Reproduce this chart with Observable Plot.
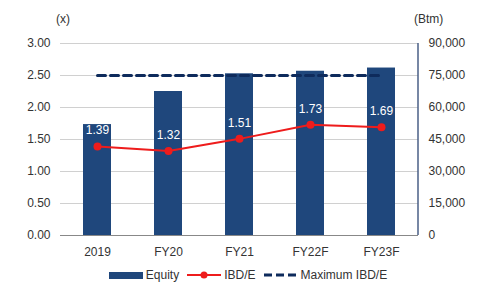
<!DOCTYPE html>
<html><head><meta charset="utf-8">
<script src="https://cdn.jsdelivr.net/npm/d3@7"></script>
<script src="https://cdn.jsdelivr.net/npm/@observablehq/plot@0.6"></script>
<style>
body{margin:0;background:#fff;font-family:"Liberation Sans",Arial,sans-serif;}
#wrap{width:484px;position:relative;}
.unit{position:absolute;top:12px;font-size:12px;color:#333;}
#legend{display:flex;justify-content:center;gap:8px;font-size:12px;color:#333;margin-top:6px;margin-left:12px;}
#legend span{display:inline-flex;align-items:center;gap:3px;}
</style></head>
<body><div id="wrap"><div class="unit" style="left:56px">(x)</div><div class="unit" style="left:414px">(Btm)</div><div id="chart"></div><div id="legend"></div></div>
<script>
const categories = ["2019","FY20","FY21","FY22F","FY23F"];
const equity = [52000, 67500, 75800, 77000, 78500];
const ibde = [1.39, 1.32, 1.51, 1.73, 1.69];
const maxIbde = 2.50;
const leftTicks = [0,0.5,1,1.5,2,2.5,3];
const rightTicks = [0,15000,30000,45000,60000,75000,90000];

const ratio = 90000/3;
const rows = categories.map((c,i)=>({cat:c, eq:equity[i]/ratio, ib:ibde[i], mx:maxIbde}));
const navy = "#1f477c";
const plot = Plot.plot({
  width:484, height:262,
  marginLeft:60, marginRight:66, marginTop:43, marginBottom:27,
  style:{fontFamily:"Liberation Sans, Arial, sans-serif", fontSize:"12px", color:"#333"},
  x:{domain:categories, paddingInner:0.6, paddingOuter:0.3, label:null},
  y:{domain:[0,3], label:null},
  marks:[
    Plot.gridY(leftTicks,{stroke:"#d0d0d0", strokeOpacity:1}),
    Plot.barY(rows,{x:"cat", y:"eq", fill:navy}),
    Plot.ruleX([0],{stroke:"#999"}),
    Plot.ruleY([0],{stroke:"#888"}),
    Plot.axisY({anchor:"left", ticks:leftTicks, tickFormat:d=>d.toFixed(2), tickSize:0, tickPadding:10, label:null}),
    Plot.axisY({anchor:"right", ticks:leftTicks, tickFormat:d=>d===0?"0":d3.format(",")(Math.round(d*ratio)), tickSize:0, tickPadding:10, label:null}),
    Plot.axisX({tickSize:0, tickPadding:12, label:null}),
    Plot.lineY(rows,{x:"cat", y:"mx", stroke:"#0e2b5c", strokeWidth:3, strokeDasharray:"8,5"}),
    Plot.lineY(rows,{x:"cat", y:"ib", stroke:"#ee1c1c", strokeWidth:2}),
    Plot.dot(rows,{x:"cat", y:"ib", fill:"#ee1c1c", r:4}),
    Plot.text(rows,{x:"cat", y:"ib", text:d=>d.ib.toFixed(2), dy:-16, fill:"white", fontSize:12})
  ]
});
// right axis line
d3.select(plot).append("line").attr("x1",418).attr("x2",418).attr("y1",43).attr("y2",235).attr("stroke","#4a5f86").attr("stroke-width",1.5);
document.getElementById("chart").appendChild(plot);

const lg = document.getElementById("legend");
lg.innerHTML = `
<span><svg width="34" height="10"><rect x="0" y="2" width="34" height="7" fill="${navy}"/></svg>Equity</span>
<span><svg width="34" height="10"><line x1="0" x2="34" y1="5" y2="5" stroke="#ee1c1c" stroke-width="2"/><circle cx="17" cy="5" r="3.5" fill="#ee1c1c"/></svg>IBD/E</span>
<span><svg width="34" height="10"><line x1="0" x2="34" y1="5" y2="5" stroke="#0e2b5c" stroke-width="3" stroke-dasharray="8,4"/></svg>Maximum IBD/E</span>`;
</script></body></html>
